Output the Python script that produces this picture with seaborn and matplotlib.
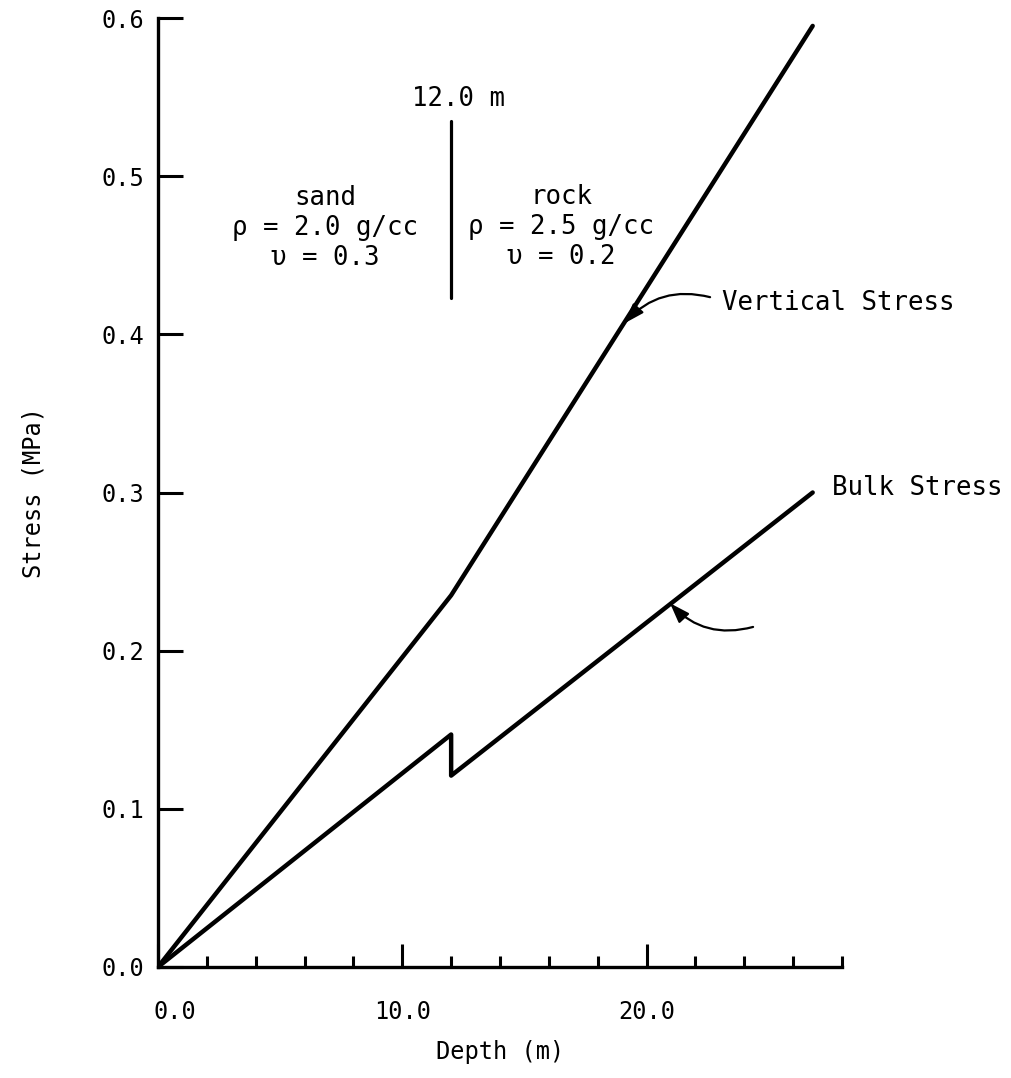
import numpy as np
import pandas as pd
import matplotlib
matplotlib.use("Agg")
import matplotlib.pyplot as plt
import matplotlib.transforms as mtransforms
import seaborn as sns

# ---- data ----
vert_depth = [0.0, 12.0, 26.8]
vert_stress = [0.0, 0.235, 0.595]
bulk_depth = [0.0, 12.0, 12.0, 26.8]
bulk_stress = [0.0, 0.147, 0.121, 0.300]

x_major = [0, 10, 20]
x_major_labels = ["0.0", "10.0", "20.0"]
x_minor = [2, 4, 6, 8, 12, 14, 16, 18, 22, 24, 26, 28]
y_ticks = [0.0, 0.1, 0.2, 0.3, 0.4, 0.5, 0.6]
y_tick_labels = ["0.0", "0.1", "0.2", "0.3", "0.4", "0.5", "0.6"]

boundary_depth = 12.0
boundary_y = [0.423, 0.535]

df = pd.DataFrame({
    "Depth": vert_depth + bulk_depth,
    "Stress": vert_stress + bulk_stress,
    "Series": ["Vertical Stress"] * len(vert_depth) + ["Bulk Stress"] * len(bulk_depth),
})

sns.set_theme(style="white")
plt.rcParams["font.family"] = ["DejaVu Sans Mono", "DejaVu Sans"]
plt.rcParams["text.color"] = "black"
plt.rcParams["axes.labelcolor"] = "black"

fig = plt.figure(figsize=(10.12, 10.78), dpi=100)
ax = fig.add_axes([158 / 1012, 1 - 967 / 1078, 684 / 1012, 949 / 1078])

sns.lineplot(data=df, x="Depth", y="Stress", hue="Series", units="Series",
             estimator=None, sort=False, palette=["black", "black"],
             linewidth=3.2, legend=False, ax=ax)

ax.set_xlim(0, 28)
ax.set_ylim(0, 0.6)

for s in ["top", "right"]:
    ax.spines[s].set_visible(False)
for s in ["left", "bottom"]:
    ax.spines[s].set_linewidth(2.4)
    ax.spines[s].set_color("black")
    ax.spines[s].set_clip_on(False)

ax.set_xticks(x_major)
ax.set_xticklabels(x_major_labels)
ax.set_xticks(x_minor, minor=True)
ax.set_yticks(y_ticks)
ax.set_yticklabels(y_tick_labels)

ax.tick_params(axis="x", which="major", direction="in", length=16.5, width=2.2,
               pad=24, labelsize=17, colors="black", bottom=True)
ax.tick_params(axis="x", which="minor", direction="in", length=8, width=2.2,
               bottom=True, colors="black")
ax.tick_params(axis="y", which="major", direction="in", length=18, width=2.2,
               pad=10, labelsize=17, colors="black", left=True)
for t in ax.xaxis.get_major_ticks() + ax.xaxis.get_minor_ticks() + ax.yaxis.get_major_ticks():
    t.tick1line.set_clip_on(False)

# the "0.0" depth label sits a little right of its tick in the original
lbl0 = ax.get_xticklabels()[0]
lbl0.set_transform(lbl0.get_transform() +
                   mtransforms.ScaledTranslation(0.17, 0, fig.dpi_scale_trans))

ax.set_xlabel("Depth (m)", fontsize=17, color="black")
ax.set_ylabel("Stress (MPa)", fontsize=17, color="black")
ax.xaxis.set_label_coords(0.5, -0.077)
ax.yaxis.set_label_coords(-0.165, 0.5)

# layer boundary marker
ax.plot([boundary_depth, boundary_depth], boundary_y, color="black", lw=2.3,
        solid_capstyle="round")
ax.text(12.3, 0.549, "12.0 m", ha="center", va="center", fontsize=18.5,
        color="black")

ax.text(6.85, 0.467, "sand\nρ = 2.0 g/cc\nυ = 0.3", ha="center", va="center",
        multialignment="center", fontsize=18.5, linespacing=1.2, color="black")
ax.text(16.5, 0.468, "rock\nρ = 2.5 g/cc\nυ = 0.2", ha="center", va="center",
        multialignment="center", fontsize=18.5, linespacing=1.2, color="black")

arrow_kw = dict(arrowstyle="-|>,head_length=1.0,head_width=0.35", color="black",
                lw=1.6, shrinkA=0, shrinkB=0)
ax.annotate("", xy=(19.1, 0.407), xytext=(22.6, 0.4235),
            arrowprops=dict(connectionstyle="arc3,rad=0.3", **arrow_kw),
            annotation_clip=False)
ax.text(23.1, 0.420, "Vertical Stress", ha="left", va="center", fontsize=18.5,
        clip_on=False, color="black")

ax.annotate("", xy=(20.96, 0.230), xytext=(24.36, 0.215),
            arrowprops=dict(connectionstyle="arc3,rad=-0.3", **arrow_kw),
            annotation_clip=False)
ax.text(27.6, 0.303, "Bulk Stress", ha="left", va="center", fontsize=18.5,
        clip_on=False, color="black")

fig.savefig("out.png", dpi=100, facecolor="white")
